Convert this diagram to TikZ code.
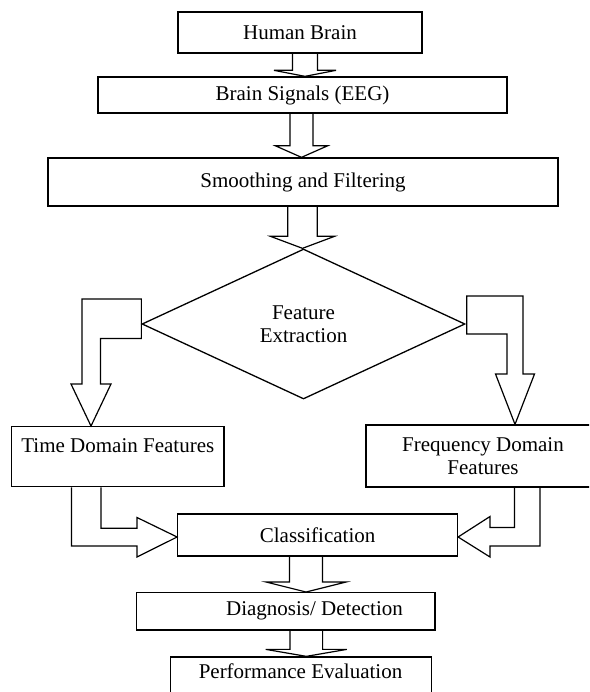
\documentclass[tikz,border=0pt]{standalone}
\usepackage{fontspec}
\setmainfont{Liberation Serif}
\usetikzlibrary{shapes.geometric,calc}
\newcommand\vblk[6]{% x, from, to, shaft half, head half, head length
  \draw[blk] let \p1=(#2), \p2=(#3) in
    (#1pt-#4pt,\y1) -- (#1pt-#4pt,\y2+#6pt) -- (#1pt-#5pt,\y2+#6pt) -- (#1pt,\y2)
    -- (#1pt+#5pt,\y2+#6pt) -- (#1pt+#4pt,\y2+#6pt) -- (#1pt+#4pt,\y1);}
\begin{document}
\begin{tikzpicture}[x=1pt,y=-1pt,
  box/.style={draw,line width=1.3pt,rectangle,inner sep=0pt,align=center,font=\fontsize{21}{23}\selectfont},
  txt/.style={inner sep=0pt,align=center,font=\fontsize{21}{23}\selectfont},
  blk/.style={draw,line width=1.2pt,line join=miter}]
\useasboundingbox (0,0) rectangle (589,692);
\clip (0,0) rectangle (589,692);
\node[box,minimum width=244pt,minimum height=41pt] (human) at (300,32.5) {Human Brain};
\node[box,minimum width=409pt,minimum height=36pt] (signals) at (302.5,95) {Brain Signals (EEG)};
\node[box,minimum width=510pt,minimum height=48pt] (smooth) at (303,182) {Smoothing and Filtering};
\node[box,shape=diamond,minimum width=323pt,minimum height=150pt] (feat) at (303.5,324) {Feature\\Extraction};
\node[box,minimum width=212.3pt,minimum height=60pt] (time) at (117.8,456.7) {Time Domain Features\\\phantom{F}};
\node[box,minimum width=234pt,minimum height=62pt] (freq) at (483,456) {Frequency Domain\\Features};
\node[box,minimum width=279.7pt,minimum height=42pt] (class) at (317.6,535) {Classification};
\node[box,minimum width=298.3pt,minimum height=37.3pt] (diag) at (285.8,611.3) {};
\node[txt] (diagtext) at (314.5,611.3) {Diagnosis/ Detection};
\node[box,minimum width=261pt,minimum height=46pt] (perf) at (301.2,680) {};
\node[txt,anchor=base] (perftext) at (300.5,678) {Performance Evaluation};
% straight block arrows
\vblk{305}{human.south}{signals.north}{12.5}{31}{6}
\vblk{301.5}{signals.south}{smooth.north}{11.5}{26}{11.5}
\vblk{302.5}{smooth.south}{feat.north}{14.7}{32}{12}
\vblk{306}{class.south}{diag.north}{16.5}{40}{10}
\vblk{306.3}{diag.south}{perf.north}{16.3}{40.6}{7}
% bent block arrows from the diamond
\draw[blk] let \p1=(feat.west), \p2=(time.north) in
  (\x1,-299pt) -- (82pt,-299pt) -- (82pt,-384pt) -- (71pt,-384pt) -- (91pt,\y2)
  -- (111pt,-384pt) -- (100.5pt,-384pt) -- (100.5pt,-338.5pt) -- (\x1,-338.5pt) -- cycle;
\draw[blk] let \p1=(feat.east), \p2=(freq.north) in
  (\x1+1pt,-296pt) -- (523pt,-296pt) -- (523pt,-374pt) -- (534.5pt,-374pt) -- (515pt,\y2)
  -- (495.5pt,-374pt) -- (507pt,-374pt) -- (507pt,-334pt) -- (\x1+1pt,-334pt) -- cycle;
% L-shaped block arrows into classification
\draw[blk] let \p1=(time.south), \p2=(class.west) in
  (71.5pt,\y1) -- (71.5pt,-546pt) -- (137pt,-546pt) -- (137pt,-557pt) -- (\x2,-537pt)
  -- (137pt,-517.5pt) -- (137pt,-528.3pt) -- (101pt,-528.3pt) -- (101pt,\y1);
\draw[blk] let \p1=(freq.south), \p2=(class.east) in
  (540pt,\y1) -- (540pt,-546pt) -- (490pt,-546pt) -- (490pt,-557pt) -- (\x2,-537pt)
  -- (490pt,-516.5pt) -- (490pt,-527.5pt) -- (514.5pt,-527.5pt) -- (514.5pt,\y1);
\end{tikzpicture}
\end{document}
